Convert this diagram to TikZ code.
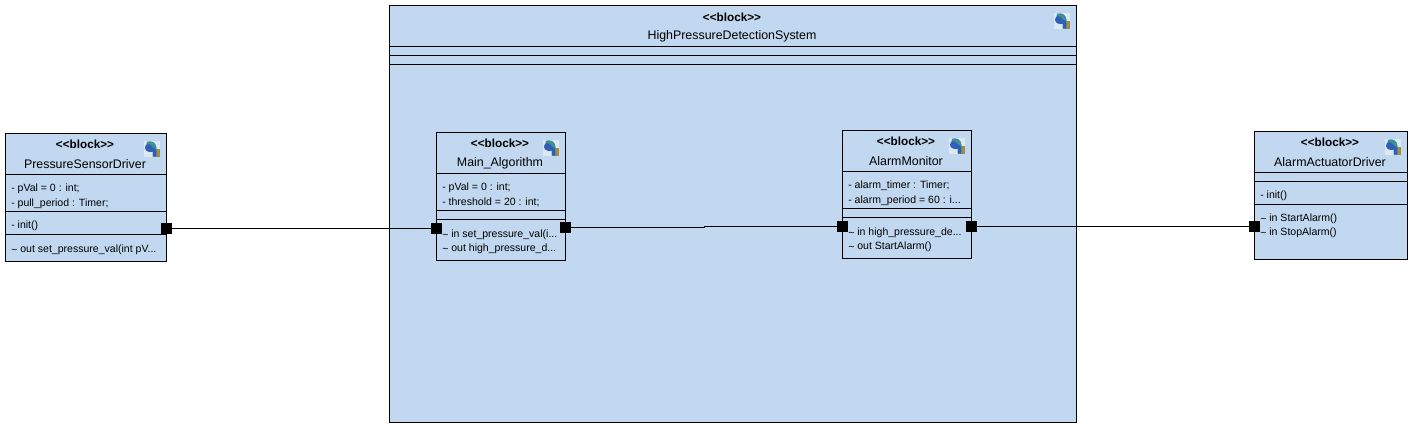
\documentclass[tikz,border=0pt]{standalone}
\usepackage{fontspec}
\setmainfont{Liberation Sans}
\definecolor{blockfill}{HTML}{C1D8F0}
\definecolor{iconbg}{HTML}{DCE9F0}
\definecolor{iconblue}{HTML}{2F5FB8}
\definecolor{iconteal}{HTML}{3F8F98}
\definecolor{iconbrown}{HTML}{A58A45}
\newcommand{\blockfont}{\fontsize{9.3pt}{10pt}\selectfont}
\newcommand{\stereofont}{\fontsize{8.8pt}{10pt}\selectfont\bfseries}
\newcommand{\memberfont}{\fontsize{7.9pt}{9pt}\selectfont}
\newcommand{\tld}{\raisebox{-1pt}{\textasciitilde}}
\tikzset{
  x=0.75pt,y=-0.75pt,
  blockbox/.style={draw=black,fill=blockfill,line width=0.75pt},
  sepline/.style={draw=black,line width=0.75pt},
  stereo/.style={font=\stereofont,inner sep=0pt,anchor=center},
  title/.style={font=\blockfont,inner sep=0pt,anchor=center,yshift=-0.5pt},
  member/.style={font=\memberfont,inner sep=0pt,anchor=west,yshift=-0.5pt},
  port/.style={fill=black,draw=none,minimum size=8.25pt,inner sep=0pt,outer sep=0pt},
  wire/.style={draw=black,line width=0.75pt},
  pics/blockicon/.style={code={
    \fill[iconbg] (0,0) rectangle (16,16);
    \fill[iconbrown] (11,8) rectangle (16,16);
    \fill[iconteal] (3,1) .. controls (8,-0.5) and (12,2) .. (12.5,7) -- (12.5,16) -- (8.5,16) -- (8.5,9) -- (2,6) -- cycle;
    \fill[iconblue] (1,7) .. controls (1,3) and (6,2) .. (8,6) -- (12,9) -- (12,16) -- (9,16) -- (9,11) .. controls (6,12) and (1,11) .. (1,7) -- cycle;
  }}
}
\begin{document}
\begin{tikzpicture}
\useasboundingbox (0,-0.7) rectangle (1412,426.3);
\fill[white] (0,-0.7) rectangle (1412,426.3);
% system
\path[blockbox] (389.5,5) rectangle (1076,422);
\foreach \yy in {46,55,64} \draw[sepline] (389.5,\yy) -- (1076,\yy);
\node[stereo] (sysS) at (732,16.5) {<{}<block>{}>};
\node[title] (sysT) at (732,35) {HighPressureDetectionSystem};
\pic at (1054,12) {blockicon};
% sensor
\path[blockbox] (5,133) rectangle (166,261);
\foreach \yy in {174,211,234} \draw[sepline] (5,\yy) -- (166,\yy);
\node[stereo] (senS) at (85,144) {<{}<block>{}>};
\node[title] (senT) at (85,163) {PressureSensorDriver};
\node[member] (sen1) at (11,187) {- pVal = 0 : int;};
\node[member] (sen2) at (11,202) {- pull\_period : Timer;};
\node[member] (sen3) at (11,224) {- init()};
\node[member] (sen4) at (11,248) {\tld{} out set\_pressure\_val(int pV...};
\pic at (144,140) {blockicon};
% main
\path[blockbox] (436,132) rectangle (565,260);
\foreach \yy in {173,210,219} \draw[sepline] (436,\yy) -- (565,\yy);
\node[stereo] (mainS) at (500,143) {<{}<block>{}>};
\node[title] (mainT) at (500,162) {Main\_Algorithm};
\node[member] (main1) at (442,186) {- pVal = 0 : int;};
\node[member] (main2) at (442,201) {- threshold = 20 : int;};
\node[member] (main3) at (442,233) {\tld{} in set\_pressure\_val(i...};
\node[member] (main4) at (442,247) {\tld{} out high\_pressure\_d...};
\pic at (543,139) {blockicon};
% alarm
\path[blockbox] (842,130) rectangle (971,258);
\foreach \yy in {171,208,217} \draw[sepline] (842,\yy) -- (971,\yy);
\node[stereo] (alaS) at (906,141) {<{}<block>{}>};
\node[title] (alaT) at (906,160) {AlarmMonitor};
\node[member] (ala1) at (848,184) {- alarm\_timer : Timer;};
\node[member] (ala2) at (848,199) {- alarm\_period = 60 : i...};
\node[member] (ala3) at (848,231) {\tld{} in high\_pressure\_de...};
\node[member] (ala4) at (848,245) {\tld{} out StartAlarm()};
\pic at (949,137) {blockicon};
% actuator
\path[blockbox] (1254,131) rectangle (1407,259);
\foreach \yy in {172,181,204} \draw[sepline] (1254,\yy) -- (1407,\yy);
\node[stereo] (actS) at (1330,142) {<{}<block>{}>};
\node[title] (actT) at (1330,161) {AlarmActuatorDriver};
\node[member] (act1) at (1260,194) {- init()};
\node[member] (act2) at (1260,217) {\tld{} in StartAlarm()};
\node[member] (act3) at (1260,231) {\tld{} in StopAlarm()};
\pic at (1385,138) {blockicon};
% ports
\node[port] (p1) at (166,228) {};
\node[port] (p2) at (436,228) {};
\node[port] (p3) at (565,227) {};
\node[port] (p4) at (842,226) {};
\node[port] (p5) at (971,226) {};
\node[port] (p6) at (1254,226) {};
% connectors
\coordinate (j1) at (704,227);
\coordinate (j2) at (704,226);
\draw[wire] (p1) -- (p2);
\draw[wire] (p3) -- (j1) -- (j2) -- (p4);
\draw[wire] (p5) -- (p6);
\end{tikzpicture}
\end{document}
